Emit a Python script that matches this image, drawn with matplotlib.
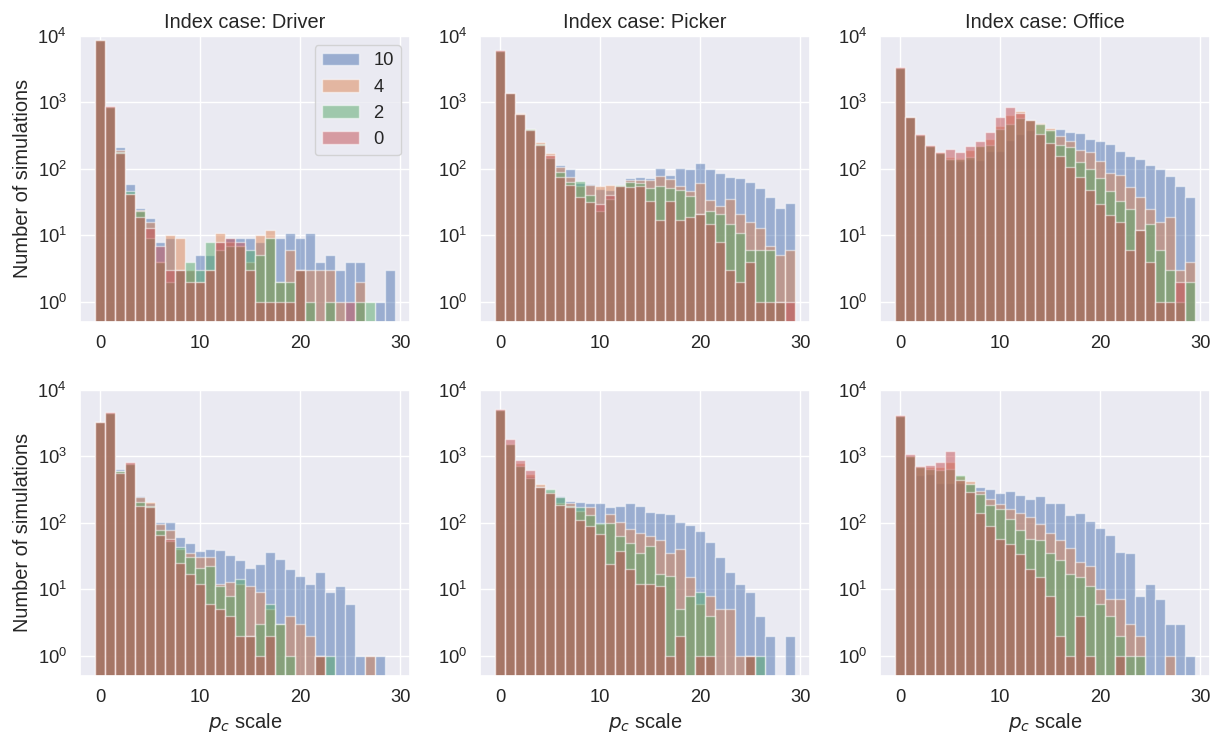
import numpy as np
import matplotlib
matplotlib.use("Agg")
import matplotlib.pyplot as plt
import seaborn as sns

sns.set_theme(style="darkgrid", font_scale=1.2)
plt.rcParams["font.family"] = ["Liberation Sans", "DejaVu Sans"]

pc_scale = np.arange(30)
series_labels = ["10", "4", "2", "0"]
index_cases = ["Driver", "Picker", "Office"]

# top row
driver_top_10 = [8400, 850, 210, 59, 26, 18, 8, 9, 3, 3, 5, 5, 8, 9, 9, 9, 8, 9, 9, 11, 9, 11, 4, 5, 3, 4, 4, 0, 1, 3]
driver_top_4 = [8600, 860, 190, 42, 24, 16, 4, 10, 9, 3, 2, 3, 11, 8, 7, 4, 10, 12, 2, 6, 3, 3, 3, 3, 1, 0, 2, 0, 0, 0]
driver_top_2 = [8700, 860, 180, 46, 23, 9, 4, 2, 3, 4, 3, 8, 6, 7, 7, 6, 5, 9, 2, 2, 3, 1, 0, 1, 0, 0, 1, 1, 0, 0]
driver_top_0 = [8800, 870, 175, 42, 19, 13, 7, 3, 3, 2, 2, 3, 8, 9, 8, 3, 1, 1, 1, 1, 3, 0, 0, 0, 0, 1, 0, 0, 0, 0]

picker_top_10 = [5900, 1400, 670, 400, 230, 150, 116, 98, 62, 60, 50, 48, 55, 72, 74, 72, 103, 82, 103, 98, 123, 98, 85, 76, 72, 63, 52, 38, 26, 31]
picker_top_4 = [5900, 1400, 680, 400, 254, 175, 108, 75, 55, 57, 55, 57, 55, 68, 68, 68, 78, 70, 55, 46, 62, 34, 28, 35, 21, 16, 13, 7, 5, 6]
picker_top_2 = [5950, 1400, 670, 395, 240, 143, 88, 63, 65, 40, 23, 35, 58, 63, 62, 52, 55, 52, 48, 39, 21, 23, 21, 15, 11, 6, 6, 6, 1, 0]
picker_top_0 = [6200, 1380, 665, 390, 225, 160, 75, 57, 37, 32, 30, 40, 55, 53, 55, 33, 17, 33, 17, 19, 21, 15, 8, 3, 2, 4, 1, 1, 1, 1]

office_top_10 = [3300, 600, 320, 222, 175, 135, 130, 140, 135, 184, 184, 270, 330, 390, 340, 370, 400, 355, 340, 280, 262, 240, 185, 158, 141, 116, 98, 78, 56, 37]
office_top_4 = [3300, 600, 325, 224, 178, 150, 145, 190, 220, 280, 445, 650, 750, 550, 490, 412, 316, 260, 195, 178, 130, 87, 80, 54, 37, 25, 16, 19, 3, 4]
office_top_2 = [3300, 600, 325, 224, 175, 140, 140, 150, 220, 230, 400, 475, 580, 550, 470, 380, 232, 214, 126, 100, 72, 46, 33, 25, 12, 15, 6, 3, 1, 2]
office_top_0 = [3350, 610, 330, 226, 178, 200, 180, 220, 266, 355, 600, 850, 680, 540, 330, 245, 155, 106, 75, 48, 30, 20, 16, 6, 12, 4, 1, 1, 2, 0]

# bottom row
driver_bot_10 = [3250, 4500, 645, 780, 254, 200, 103, 103, 60, 49, 37, 40, 39, 33, 27, 21, 24, 36, 28, 20, 16, 12, 18, 9, 11, 6, 1, 1, 1, 0]
driver_bot_4 = [3250, 4500, 610, 780, 240, 205, 95, 77, 40, 35, 30, 31, 12, 13, 12, 11, 9, 5, 3, 4, 3, 2, 1, 0, 0, 0, 0, 1, 0, 0]
driver_bot_2 = [3300, 4550, 590, 775, 205, 180, 77, 53, 43, 30, 21, 22, 11, 8, 14, 2, 3, 6, 3, 1, 0, 0, 1, 1, 0, 0, 0, 0, 0, 0]
driver_bot_0 = [3270, 4700, 550, 820, 178, 175, 65, 56, 25, 17, 12, 6, 5, 4, 2, 2, 1, 2, 0, 0, 0, 0, 1, 0, 0, 0, 0, 0, 0, 0]

picker_bot_10 = [5000, 1550, 750, 500, 360, 300, 250, 211, 204, 195, 200, 174, 178, 195, 178, 146, 141, 133, 103, 92, 76, 51, 30, 18, 12, 9, 4, 2, 0, 2]
picker_bot_4 = [5000, 1550, 800, 540, 380, 290, 200, 200, 150, 170, 95, 133, 103, 80, 70, 63, 54, 35, 40, 15, 6, 8, 5, 5, 1, 1, 0, 0, 0, 0]
picker_bot_2 = [5000, 1520, 720, 470, 345, 320, 240, 180, 170, 130, 100, 100, 62, 49, 35, 44, 17, 16, 5, 8, 9, 4, 0, 0, 0, 1, 1, 0, 0, 0]
picker_bot_0 = [5050, 1800, 870, 615, 340, 280, 184, 170, 108, 89, 68, 24, 37, 20, 12, 12, 11, 1, 2, 0, 1, 1, 0, 0, 0, 1, 0, 0, 0, 0]

office_bot_10 = [4100, 990, 520, 537, 390, 400, 400, 380, 347, 316, 282, 300, 265, 224, 250, 195, 195, 130, 141, 106, 82, 65, 36, 35, 8, 12, 7, 3, 3, 1]
office_bot_4 = [4100, 1000, 700, 690, 690, 820, 500, 426, 300, 224, 190, 158, 141, 122, 97, 69, 54, 41, 26, 22, 10, 7, 7, 3, 2, 0, 0, 1, 0, 0]
office_bot_2 = [4100, 1000, 690, 650, 617, 650, 530, 380, 270, 184, 158, 112, 79, 57, 55, 35, 27, 17, 15, 11, 6, 4, 2, 1, 1, 0, 0, 0, 0, 0]
office_bot_0 = [4150, 1070, 720, 730, 820, 1190, 437, 285, 141, 89, 57, 48, 34, 20, 15, 8, 2, 1, 4, 1, 0, 0, 1, 0, 0, 0, 0, 0, 0, 0]

panels = [
    [[driver_top_10, driver_top_4, driver_top_2, driver_top_0],
     [picker_top_10, picker_top_4, picker_top_2, picker_top_0],
     [office_top_10, office_top_4, office_top_2, office_top_0]],
    [[driver_bot_10, driver_bot_4, driver_bot_2, driver_bot_0],
     [picker_bot_10, picker_bot_4, picker_bot_2, picker_bot_0],
     [office_bot_10, office_bot_4, office_bot_2, office_bot_0]],
]

bins = np.arange(-0.5, 30.5, 1)

fig, axes = plt.subplots(2, 3, figsize=(12.14, 7.32), dpi=100)
fig.subplots_adjust(left=0.066, right=0.997, bottom=0.077, top=0.951,
                    wspace=0.212, hspace=0.238)
for r in range(2):
    for c in range(3):
        ax = axes[r, c]
        for counts, lab in zip(panels[r][c], series_labels):
            ax.hist(pc_scale, bins=bins, weights=counts, alpha=0.5, log=True, label=lab)
        ax.set_ylim(0.5, 1e4)
        ax.set_xticks([0, 10, 20, 30])
        if r == 0:
            ax.set_title("Index case: " + index_cases[c])
        if r == 1:
            ax.set_xlabel("$p_c$ scale")
        if c == 0:
            ax.set_ylabel("Number of simulations")

axes[0, 0].legend(loc="upper right")
fig.savefig("out.png")
